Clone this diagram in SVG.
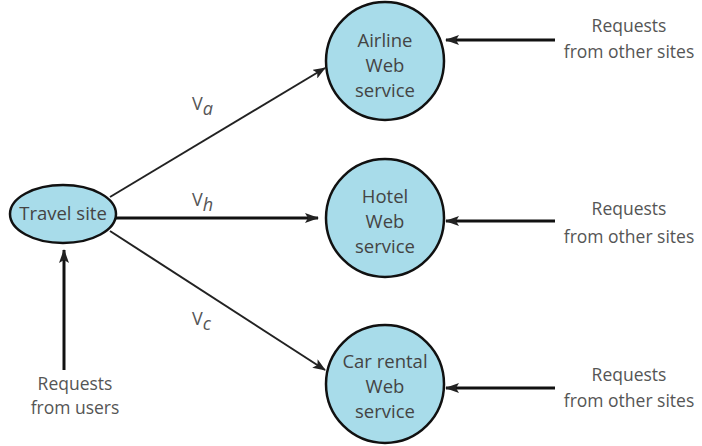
<svg xmlns="http://www.w3.org/2000/svg" width="702" height="446" viewBox="0 0 702 446">
<style>
.node{fill:#a8dcea;stroke:#111;stroke-width:2.5}
.t{font-family:"Open Sans","Lato","Liberation Sans",sans-serif;font-size:18.5px;fill:#444;text-anchor:middle}
.lbl{font-family:"Open Sans","Lato","Liberation Sans",sans-serif;font-size:17.5px;fill:#555;text-anchor:middle}
.v{font-family:"Open Sans","Lato","Liberation Sans",sans-serif;font-size:18px;fill:#555}
.c{stroke:#222;stroke-width:2;fill:none;marker-end:url(#ah)}
.ck{stroke:#111;stroke-width:3;fill:none;marker-end:url(#ah2)}
</style>
<defs>
<marker id="ah" viewBox="0 0 13 10" refX="12" refY="5" markerWidth="13" markerHeight="10" markerUnits="userSpaceOnUse" orient="auto">
<path d="M0,0 L13,5 L0,10 L3,5 z" fill="#222"/>
</marker>
<marker id="ah2" viewBox="0 0 14 10" refX="13" refY="5" markerWidth="14" markerHeight="10" markerUnits="userSpaceOnUse" orient="auto">
<path d="M0,0 L14,5 L0,10 L3,5 z" fill="#222"/>
</marker>
</defs>
<g id="connectors">
<line class="c" x1="110" y1="197" x2="325" y2="68"/>
<line class="ck" x1="115" y1="218" x2="318" y2="218"/>
<line class="c" x1="110" y1="231" x2="325" y2="370"/>
<line class="ck" x1="555" y1="40" x2="446" y2="40"/>
<line class="ck" x1="555" y1="221" x2="446" y2="221"/>
<line class="ck" x1="555" y1="388" x2="446" y2="388"/>
<line class="ck" x1="64" y1="370" x2="64" y2="250"/>
</g>
<g id="travel">
<ellipse class="node" cx="63" cy="214" rx="53" ry="29"/>
<text class="t" x="63" y="220">Travel site</text>
</g>
<g id="airline">
<circle class="node" cx="385" cy="61" r="59"/>
<text class="t" x="385" y="47">Airline</text>
<text class="t" x="385" y="72">Web</text>
<text class="t" x="385" y="97">service</text>
</g>
<g id="hotel">
<circle class="node" cx="385" cy="218" r="59"/>
<text class="t" x="385" y="203">Hotel</text>
<text class="t" x="385" y="228">Web</text>
<text class="t" x="385" y="253">service</text>
</g>
<g id="car">
<circle class="node" cx="385" cy="384" r="59"/>
<text class="t" x="385" y="368">Car rental</text>
<text class="t" x="385" y="393">Web</text>
<text class="t" x="385" y="418">service</text>
</g>
<g id="labels">
<text class="v" x="192" y="110">V<tspan font-style="italic" dy="5">a</tspan></text>
<text class="v" x="192" y="206">V<tspan font-style="italic" dy="5">h</tspan></text>
<text class="v" x="192" y="325">V<tspan font-style="italic" dy="5">c</tspan></text>
<text class="lbl" x="629" y="32">Requests</text>
<text class="lbl" x="629" y="58">from other sites</text>
<text class="lbl" x="629" y="215">Requests</text>
<text class="lbl" x="629" y="243">from other sites</text>
<text class="lbl" x="629" y="381">Requests</text>
<text class="lbl" x="629" y="407">from other sites</text>
<text class="lbl" x="75" y="390">Requests</text>
<text class="lbl" x="75" y="414">from users</text>
</g>
</svg>
